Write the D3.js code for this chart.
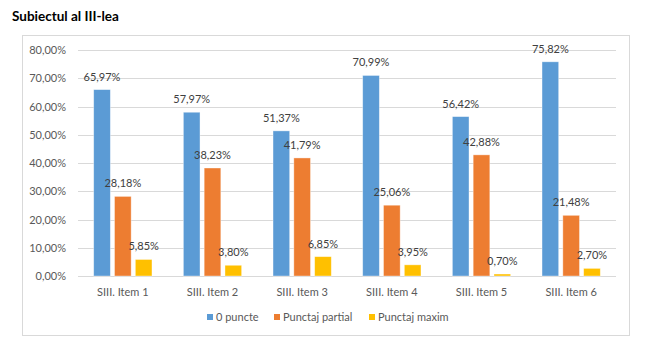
<!DOCTYPE html>
<html><head><meta charset="utf-8">
<script src="https://cdn.jsdelivr.net/npm/d3@7"></script>
<style>body{margin:0;background:#fff;}svg{display:block;font-family:Lato,"Open Sans",sans-serif;}</style>
</head><body><svg id="c" width="659" height="356"></svg>
<script>
const categories = ["SIII. Item 1","SIII. Item 2","SIII. Item 3","SIII. Item 4","SIII. Item 5","SIII. Item 6"];
const seriesNames = ["0 puncte","Punctaj partial","Punctaj maxim"];
const zeroPuncte = [65.97,57.97,51.37,70.99,56.42,75.82];
const punctajPartial = [28.18,38.23,41.79,25.06,42.88,21.48];
const punctajMaxim = [5.85,3.80,6.85,3.95,0.70,2.70];
const yTicks = [0,10,20,30,40,50,60,70,80];
const colors = ["#5B9BD5","#ED7D31","#FFC000"];
const series = [zeroPuncte, punctajPartial, punctajMaxim];

(function(){
const svg = d3.select("#c");
const fmt = v => v.toFixed(2).replace(".", ",") + "%";

svg.append("text").attr("x",12).attr("y",21).attr("font-size",13.5).attr("font-weight","bold")
  .attr("fill","#000").text("Subiectul al III-lea");

svg.append("rect").attr("x",22.5).attr("y",35.5).attr("width",607).attr("height",300)
  .attr("fill","#fff").attr("stroke","#d9d9d9");

const pl=78, pr=616, pt=50, pb=276;
const x0 = d3.scaleBand().domain(categories).range([pl,pr]).paddingInner(0.35).paddingOuter(0.175);
const x1 = d3.scaleBand().domain(seriesNames).range([0,x0.bandwidth()]).paddingInner(0.2);
const y = d3.scaleLinear().domain([0,80]).range([pb,pt]);

const gy = svg.append("g");
yTicks.forEach(t=>{
  gy.append("line").attr("x1",pl).attr("x2",pr).attr("y1",Math.round(y(t))+0.5).attr("y2",Math.round(y(t))+0.5)
    .attr("stroke","#d9d9d9").attr("stroke-width",1);
  gy.append("text").attr("x",66).attr("y",y(t)+4).attr("text-anchor","end").attr("font-size",11)
    .attr("fill","#595959").text(fmt(t));
});

series.forEach((vals,si)=>{
  const g = svg.append("g");
  vals.forEach((v,ci)=>{
    const bx = x0(categories[ci]) + x1(seriesNames[si]);
    g.append("rect").attr("x",bx).attr("y",y(v)).attr("width",x1.bandwidth()).attr("height",y(0)-y(v))
      .attr("fill",colors[si]).attr("stroke","#fff").attr("stroke-opacity",0.5).attr("stroke-width",0.75);
    g.append("text").attr("x",bx+x1.bandwidth()/2).attr("y",y(v)-9).attr("text-anchor","middle")
      .attr("font-size",11).attr("fill","#404040").text(fmt(v));
  });
});

categories.forEach(c=>{
  svg.append("text").attr("x",x0(c)+x0.bandwidth()/2).attr("y",296).attr("text-anchor","middle")
    .attr("font-size",11).attr("fill","#595959").text(c);
});

const legX = [207,274,369];
seriesNames.forEach((n,i)=>{
  svg.append("rect").attr("x",legX[i]).attr("y",314).attr("width",6).attr("height",6).attr("fill",colors[i]);
  svg.append("text").attr("x",legX[i]+9).attr("y",321).attr("font-size",11).attr("fill","#595959").text(n);
});
})();
</script></body></html>
